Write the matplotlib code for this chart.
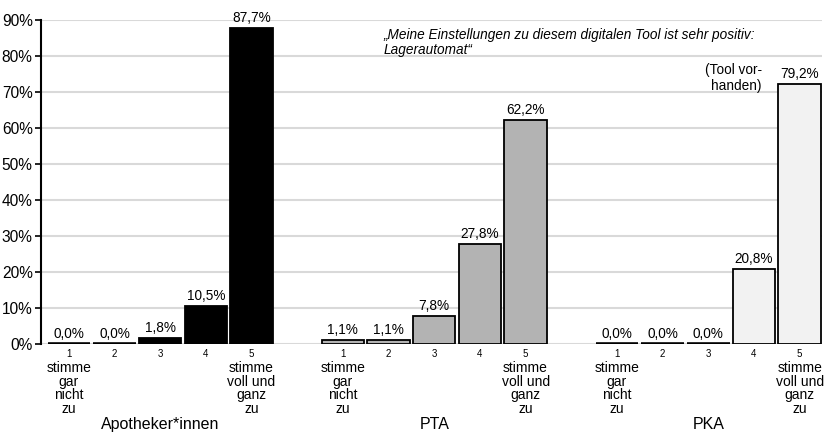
import numpy as np
import matplotlib.pyplot as plt
from matplotlib.transforms import blended_transform_factory

# survey answers 1..5 in percent, per group
groups = ["Apotheker*innen", "PTA", "PKA"]
answers = ["1", "2", "3", "4", "5"]
apotheker = [0.0, 0.0, 1.8, 10.5, 87.7]
pta = [1.1, 1.1, 7.8, 27.8, 62.2]
pka = [0.0, 0.0, 0.0, 20.8, 79.2]
# the last PKA bar is drawn shorter in the original to make room for the note
pka_drawn = [0.0, 0.0, 0.0, 20.8, 72.2]
yticks = [0, 10, 20, 30, 40, 50, 60, 70, 80, 90]

low_label = "stimme\ngar\nnicht\nzu"
high_label = "stimme\nvoll und\nganz\nzu"
title = "\u201eMeine Einstellungen zu diesem digitalen Tool ist sehr positiv:\nLagerautomat\u201c"
note = "(Tool vor-\nhanden)"

colors = ["#000000", "#b3b3b3", "#f2f2f2"]
font = ["Liberation Sans", "DejaVu Sans"]
bar_w = 0.93

fig = plt.figure(figsize=(8.24, 4.33), dpi=100)
ax = fig.add_axes([41 / 824, 1 - 344 / 433, 781 / 824, 324.3 / 433])

values = [apotheker, pta, pka]
drawn = [apotheker, pta, pka_drawn]
trans = blended_transform_factory(ax.transData, ax.transAxes)

for g, name in enumerate(groups):
    x = g * 6 + np.arange(len(answers))
    h = np.array(drawn[g])
    ax.bar(x, h, width=bar_w, color=colors[g], edgecolor="black",
           linewidth=1.3, zorder=3)
    # empty answers still show as a flat black stroke
    zero = x[h == 0]
    ax.hlines(np.zeros(len(zero)), zero - bar_w / 2, zero + bar_w / 2,
              color="black", linewidth=2.6, zorder=3)
    for xi, hi, v in zip(x, h, values[g]):
        ax.annotate(f"{v:.1f}%".replace(".", ","), (xi, hi), xytext=(0, 2),
                    textcoords="offset points", ha="center", va="bottom",
                    fontsize=9.8, family=font)
        ax.text(xi, -0.031, answers[int(xi - g * 6)], transform=trans,
                ha="center", va="center", fontsize=7, family=font)
    ax.text(x[0], -0.053, low_label, transform=trans, ha="center", va="top",
            fontsize=10, family=font, linespacing=0.96)
    ax.text(x[-1], -0.053, high_label, transform=trans, ha="center", va="top",
            fontsize=10, family=font, linespacing=0.96)
    ax.text(x[2], -0.247, name, transform=trans, ha="center", va="center",
            fontsize=11.5, family=font)

ax.set_xlim(-0.61, 16.49)
ax.set_ylim(0, 90)
ax.set_xticks([])
ax.set_yticks(yticks)
ax.set_yticklabels([f"{t}%" for t in yticks], family=font, fontsize=11.2)
ax.tick_params(axis="y", length=4.5, width=1.2, pad=1.5)
ax.yaxis.grid(True, color="#d9d9d9", linewidth=1.5, zorder=0)
ax.set_axisbelow(True)
for side in ["top", "right", "bottom"]:
    ax.spines[side].set_visible(False)
ax.spines["left"].set_linewidth(1.5)
ax.spines["left"].set_zorder(4)

ax.text(0.439, 0.975, title, transform=ax.transAxes, ha="left", va="top",
        fontsize=9.8, style="italic", family=font, linespacing=1.15)
ax.text(0.923, 0.865, note, transform=ax.transAxes, ha="right", va="top",
        fontsize=9.8, family=font, linespacing=1.1)

fig.savefig("out.png", dpi=100)
